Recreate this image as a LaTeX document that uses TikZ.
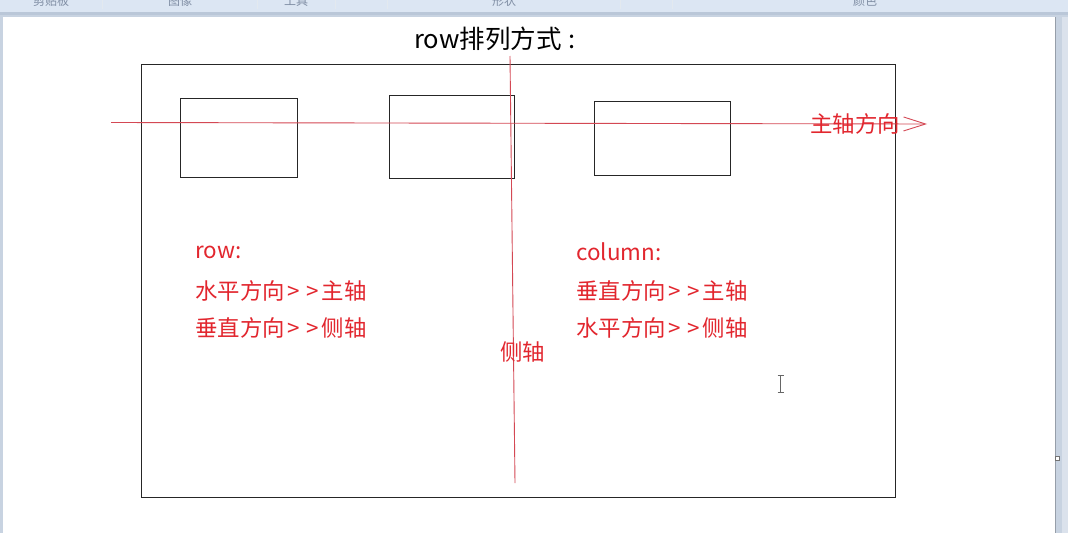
\documentclass[tikz,border=0pt]{standalone}
\usepackage{fontspec}
\setmainfont{Noto Sans CJK SC}
\usetikzlibrary{arrows.meta}
\definecolor{txtred}{RGB}{226,38,46}
\definecolor{linered}{RGB}{212,72,84}
\definecolor{barbg}{RGB}{220,230,243}
\definecolor{barline}{RGB}{186,199,216}
\definecolor{bartxt}{RGB}{128,142,164}
\definecolor{sidebg}{RGB}{200,211,225}
\newcommand{\gtsym}{\makebox[18.5pt][c]{>}}
\tikzset{
  x=1pt, y=-1pt,
  redtxt/.style={text=txtred, font=\fontsize{22.4}{26}\selectfont, anchor=west, inner sep=0pt},
  box/.style={draw=black!85, line width=0.9pt},
  redline/.style={draw=linered, line width=0.9pt},
  barlabel/.style={text=bartxt, font=\fontsize{12}{14}\selectfont, anchor=base, inner sep=0pt},
  barsep/.style={draw=white!60!barline, line width=0.6pt}
}
\begin{document}
\begin{tikzpicture}
\useasboundingbox (0,0) rectangle (1068,533);
\clip (0,0) rectangle (1068,533);
% window background
\fill[sidebg] (0,0) rectangle (1068,533);
\fill[barbg] (0,0) rectangle (1068,12);
\fill[barline] (0,12) rectangle (1068,15);
\fill[white] (3,17) rectangle (1055,533);
\draw[black!25!sidebg, line width=0.8pt] (1055.4,17) -- (1055.4,533);
\fill[white!35!sidebg] (1062,17) rectangle (1068,533);
% toolbar labels (cut off at the top, as in the screenshot)
\node[barlabel] (l1) at (51,5.5) {剪贴板};
\node[barlabel] (l2) at (180,5.5) {图像};
\node[barlabel] (l3) at (296,5.5) {工具};
\node[barlabel] (l4) at (504,5.5) {形状};
\node[barlabel] (l5) at (865,5.5) {颜色};
\foreach \sx in {102,257,335,387,620,672}
  \draw[barsep] (\sx,0) -- (\sx,9);
% resize handle
\draw[black!55, fill=white, line width=0.8pt] (1055.5,456.5) rectangle (1059.5,460.5);
% title
\node[font=\fontsize{25.5}{30}\selectfont, anchor=west, inner sep=0pt] (title) at (414,39) {row排列方式\makebox[20pt][c]{:}};
% frame
\draw[box] (141,64) rectangle (895,497);
% three items
\draw[box] (180,98) rectangle (297,177);
\draw[box] (389,95) rectangle (514,178);
\draw[box] (594,101) rectangle (730,175);
% main axis
\coordinate (ma0) at (111,122.5);
\coordinate (ma1) at (927,124);
\draw[redline, -{Straight Barb[length=22pt,width=14pt,line width=0.9pt]}] (ma0) -- (ma1);
\node[redtxt] (mainlab) at (810,124) {主轴方向};
% cross axis
\coordinate (ca0) at (510,56);
\coordinate (ca1) at (515,483);
\draw[redline] (ca0) -- (ca1);
\node[redtxt] (crosslab) at (500,352) {侧轴};
% row explanation
\node[redtxt] (row) at (195,252) {row:};
\node[redtxt] (row1) at (195,291) {水平方向\gtsym\gtsym 主轴};
\node[redtxt] (row2) at (195,328) {垂直方向\gtsym\gtsym 侧轴};
% column explanation
\node[redtxt] (col) at (576,252) {column:};
\node[redtxt] (col1) at (576,291) {垂直方向\gtsym\gtsym 主轴};
\node[redtxt] (col2) at (576,328) {水平方向\gtsym\gtsym 侧轴};
% text cursor
\draw[black!60, line width=1pt] (780.5,375) -- (780.5,392) (777.5,375) -- (783.5,375) (777.5,392) -- (783.5,392);
\end{tikzpicture}
\end{document}
